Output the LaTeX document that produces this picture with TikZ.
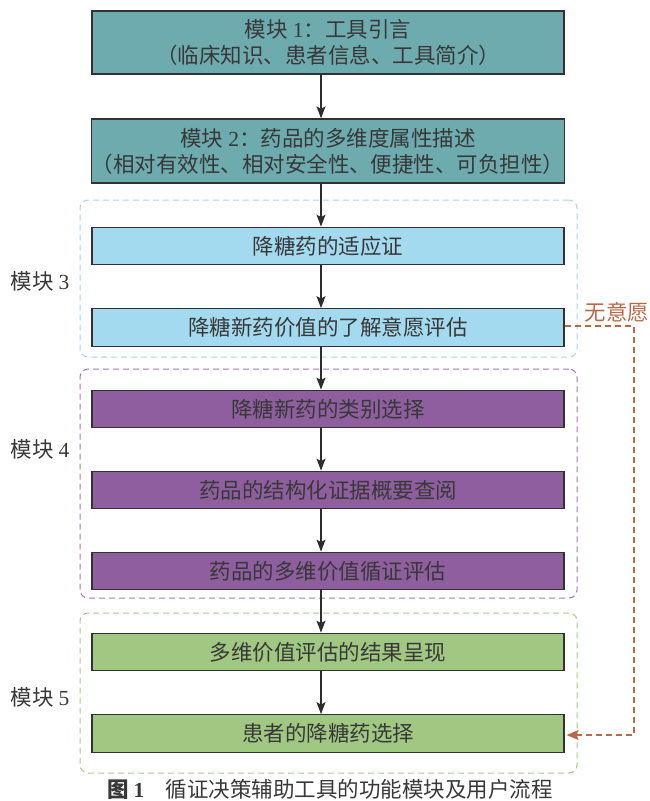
\documentclass[tikz,border=0pt]{standalone}
\usepackage{fontspec}
\setmainfont{Liberation Serif}
\newfontfamily\cjk{Noto Sans CJK SC}
\usetikzlibrary{arrows.meta}
\newcommand\dg[1]{{\rmfamily #1}}
\definecolor{teal1}{HTML}{6EABAE}
\definecolor{blue1}{HTML}{A3DAF0}
\definecolor{purp1}{HTML}{8E5E9E}
\definecolor{green1}{HTML}{A0C882}
\definecolor{gblue}{HTML}{9ED6EE}
\definecolor{gpurp}{HTML}{A676B6}
\definecolor{ggreen}{HTML}{9FCF80}
\definecolor{orng}{HTML}{B86A48}
\definecolor{txt}{HTML}{383838}
\tikzset{
  box/.style={draw=txt!90!black, line width=1.3pt, minimum width=472pt, minimum height=37.5pt,
    inner sep=0pt, align=center, text=txt, font=\cjk\fontsize{21.5}{26}\selectfont},
  grp/.style={dashed, dash pattern=on 6pt off 4pt, line width=1pt, rounded corners=8pt,
    minimum width=497pt, inner sep=0pt},
  lbl/.style={text=txt, font=\cjk\fontsize{21.5}{26}\selectfont, inner sep=0pt},
  arr/.style={draw=txt!80!black, line width=1.2pt, -{Stealth[length=12pt,width=9pt,inset=2.5pt]}},
}
\begin{document}
\begin{tikzpicture}[x=1pt,y=-1pt]
\useasboundingbox (0,0) rectangle (649,801);
\coordinate (ax) at (321,0);
\coordinate (ox) at (634,0);
% groups
\node[grp, draw=gblue, minimum height=157pt] (g3) at (328.5,278.5) {};
\node[grp, draw=gpurp, minimum height=229pt] (g4) at (328.5,483.5) {};
\node[grp, draw=ggreen, minimum height=160pt] (g5) at (328.5,693) {};
% boxes
\node[box, fill=teal1, minimum height=63pt] (b1) at (328,42.5) {模块 \dg{1}：工具引言\\（临床知识、患者信息、工具简介）};
\node[box, fill=teal1, minimum height=64pt] (b2) at (328,151) {模块 \dg{2}：药品的多维度属性描述\\（相对有效性、相对安全性、便捷性、可负担性）};
\node[box, fill=blue1] (b3a) at (328,246) {降糖药的适应证};
\node[box, fill=blue1] (b3b) at (328,327.5) {降糖新药价值的了解意愿评估};
\node[box, fill=purp1] (b4a) at (328,409) {降糖新药的类别选择};
\node[box, fill=purp1] (b4b) at (328,490) {药品的结构化证据概要查阅};
\node[box, fill=purp1] (b4c) at (328,571) {药品的多维价值循证评估};
\node[box, fill=green1] (b5a) at (328,652) {多维价值评估的结果呈现};
\node[box, fill=green1] (b5b) at (328,733.5) {患者的降糖药选择};
% labels
\node[lbl] (l3) at (40,281) {模块 \dg{3}};
\node[lbl] (l4) at (40,449) {模块 \dg{4}};
\node[lbl] (l5) at (40,697) {模块 \dg{5}};
\node[lbl, text=orng] (nw) at (617,312) {无意愿};
\node[lbl] (cap) at (330,789) {\textbf{图 \dg{1}}\hspace{1em}循证决策辅助工具的功能模块及用户流程};
% arrows
\draw[arr] (b1.south -| ax) -- (b2.north -| ax);
\draw[arr] (b2.south -| ax) -- (b3a.north -| ax);
\draw[arr] (b3a.south -| ax) -- (b3b.north -| ax);
\draw[arr] (b3b.south -| ax) -- (b4a.north -| ax);
\draw[arr] (b4a.south -| ax) -- (b4b.north -| ax);
\draw[arr] (b4b.south -| ax) -- (b4c.north -| ax);
\draw[arr] (b4c.south -| ax) -- (b5a.north -| ax);
\draw[arr] (b5a.south -| ax) -- (b5b.north -| ax);
% no-willingness path
\draw[orng, line width=1.1pt, dash pattern=on 6pt off 4pt, -{Stealth[length=12pt,width=10pt,inset=2.5pt]}]
  ([yshift=1.5pt]b3b.east) -| ([yshift=-1.5pt]b5b.east -| ox) -- ([xshift=2pt,yshift=-1.5pt]b5b.east);
\end{tikzpicture}
\end{document}
